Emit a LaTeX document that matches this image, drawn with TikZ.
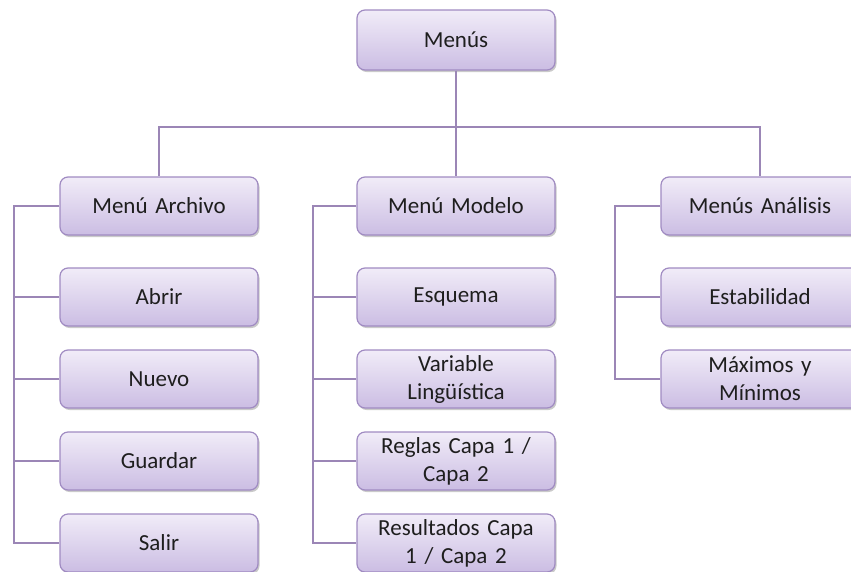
\documentclass[tikz,border=0pt]{standalone}
\usepackage{fontspec}
\setmainfont{Carlito}[WordSpace=0.6]
\usetikzlibrary{shadows}
\definecolor{boxtop}{HTML}{F1ECF8}
\definecolor{boxbot}{HTML}{CBBDE3}
\definecolor{boxline}{HTML}{A08BC2}
\definecolor{conn}{HTML}{9B86B6}
\definecolor{txt}{HTML}{1E1E1E}
\tikzset{
  menubox/.style={draw=boxline, line width=1.2pt, rounded corners=8pt,
    top color=boxtop, bottom color=boxbot, minimum width=198pt, minimum height=58pt,
    inner sep=0pt, align=center, text width=190pt, text=txt,
    font=\fontsize{23}{28}\selectfont,
    drop shadow={shadow xshift=1.5pt, shadow yshift=-2pt, opacity=0.35, fill=black!60}},
  connline/.style={draw=conn, line width=1.6pt}
}
\begin{document}
\begin{tikzpicture}[x=1pt,y=-1pt]
\useasboundingbox (0,0) rectangle (851,571);
\coordinate (hbarL) at (160,127);
\coordinate (hbarR) at (760,127);
\coordinate (archx) at (14,0);
\coordinate (modx) at (313,0);
\coordinate (anax) at (615,0);
% nodes
\node[menubox, minimum height=60pt] (menus) at (456,40) {Menús};
\node[menubox] (archivo) at (159,206) {Menú Archivo};
\node[menubox] (modelo) at (456,206) {Menú Modelo};
\node[menubox] (analisis) at (760,206) {Menús Análisis};
\node[menubox] (abrir) at (159,297) {Abrir};
\node[menubox] (nuevo) at (159,379) {Nuevo};
\node[menubox] (guardar) at (159,461) {Guardar};
\node[menubox] (salir) at (159,543) {Salir};
\node[menubox] (esquema) at (456,297) {Esquema};
\node[menubox] (variable) at (456,379) {Variable\\Lingüística};
\node[menubox] (reglas) at (456,461) {Reglas Capa 1 /\\Capa 2};
\node[menubox] (resultados) at (456,543) {Resultados Capa\\1 / Capa 2};
\node[menubox] (estabilidad) at (760,297) {Estabilidad};
\node[menubox] (maximos) at (760,379) {Máximos y\\Mínimos};
% connectors
\draw[connline] (menus.south) -- (modelo.north);
\draw[connline] (archivo.north) |- (hbarL) -- (hbarR) -- (analisis.north);
\draw[connline] (archivo.west) -- (archivo.west -| archx) |- (salir.west);
\draw[connline] (abrir.west) -- (abrir.west -| archx);
\draw[connline] (nuevo.west) -- (nuevo.west -| archx);
\draw[connline] (guardar.west) -- (guardar.west -| archx);
\draw[connline] (modelo.west) -- (modelo.west -| modx) |- (resultados.west);
\draw[connline] (esquema.west) -- (esquema.west -| modx);
\draw[connline] (variable.west) -- (variable.west -| modx);
\draw[connline] (reglas.west) -- (reglas.west -| modx);
\draw[connline] (analisis.west) -- (analisis.west -| anax) |- (maximos.west);
\draw[connline] (estabilidad.west) -- (estabilidad.west -| anax);
\end{tikzpicture}
\end{document}
